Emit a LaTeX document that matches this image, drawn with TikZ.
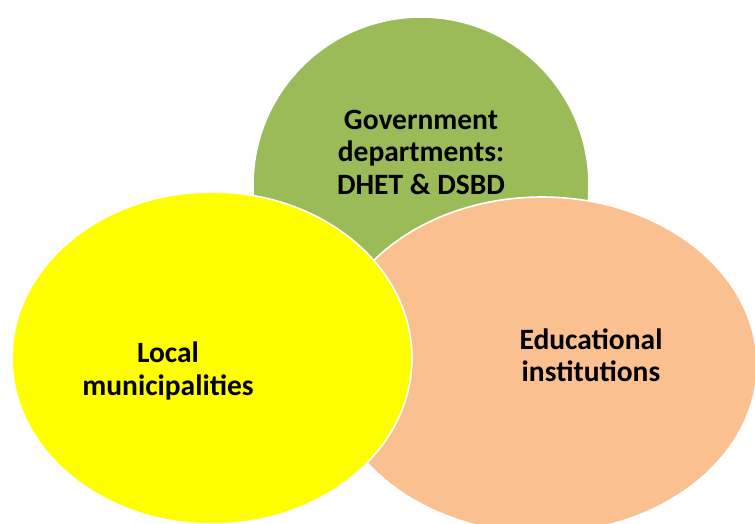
\documentclass[tikz,border=0pt]{standalone}
\usepackage{fontspec}
\setmainfont{Carlito}
\usetikzlibrary{shapes.geometric}
\definecolor{govgreen}{HTML}{9BBB59}
\definecolor{eduorange}{HTML}{FAC090}
\definecolor{munyellow}{HTML}{FFFF00}
\tikzset{
  blob/.style={ellipse, draw=white, line width=1.6pt, inner sep=0pt},
  label/.style={align=center, text=black, font=\fontsize{29.5}{32.5}\selectfont\bfseries}
}
\begin{document}
\begin{tikzpicture}[x=1pt, y=-1pt]
  \useasboundingbox (0,0) rectangle (755,523);
  % three overlapping groups, drawn back to front
  \node[blob, fill=govgreen, minimum width=336pt, minimum height=336pt] (gov) at (421,185) {};
  \node[blob, fill=eduorange, minimum width=430pt, minimum height=336pt] (edu) at (542,365) {};
  \node[blob, fill=munyellow, minimum width=400pt, minimum height=332pt] (mun) at (212,358) {};
  % captions
  \node[label] (govtext) at (421,152) {Government\\departments:\\DHET \& DSBD};
  \node[label] (edutext) at (591,355) {Educational\\institutions};
  \node[label] (muntext) at (168,371) {Local\\municipalities};
\end{tikzpicture}
\end{document}
